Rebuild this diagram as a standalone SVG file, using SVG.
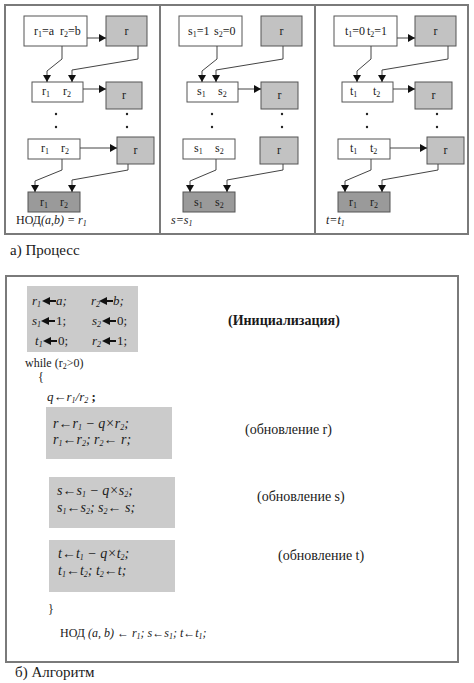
<svg xmlns="http://www.w3.org/2000/svg" width="474" height="683" viewBox="0 0 474 683">
<style>
text{font-family:"Liberation Serif","Times New Roman",serif;fill:#1a1a1a}
.t{font-size:12px}
.i{font-style:italic}
.s{font-size:8px}
.w{fill:#fff;stroke:#555;stroke-width:1}
.g{fill:#c2c2c2;stroke:#555;stroke-width:1}
.d{fill:#9a9a9a;stroke:#555;stroke-width:1}
.frame{fill:none;stroke:#7a7a7a;stroke-width:2}
.c{fill:none;stroke:#444;stroke-width:1}
.ab{fill:#cbcbcb}
.a13{font-size:13px;font-style:italic}
.a14{font-size:14px;font-style:italic}
.lbl{font-size:14px}
.dot{fill:#222}
</style>
<defs>
<marker id="ah" markerWidth="8" markerHeight="8" refX="7" refY="4" orient="auto" markerUnits="userSpaceOnUse">
<path d="M0,0 L7,4 L0,8 Z" fill="#111"/>
</marker>
<g id="big">
<path d="M0,0 L8,-4 L8,4 Z" fill="#111"/>
<line x1="7" y1="0" x2="14" y2="0" stroke="#111" stroke-width="2"/>
</g>
</defs>

<!-- frames -->
<rect class="frame" x="5" y="5" width="463" height="229"/>
<line class="frame" x1="160" y1="5" x2="160" y2="234"/>
<line class="frame" x1="315" y1="5" x2="315" y2="234"/>
<rect class="frame" x="6" y="276" width="452" height="386"/>

<!-- column 1 -->
<g id="c1b1"><rect class="w" x="24" y="16" width="63" height="30"/>
<text class="t" x="34" y="35">r<tspan class="s" dy="2">1</tspan><tspan dy="-2">=a</tspan></text>
<text class="t" x="60" y="35">r<tspan class="s" dy="2">2</tspan><tspan dy="-2">=b</tspan></text></g>
<g id="c1r1"><rect class="g" x="106" y="16" width="41" height="30"/><text class="t" x="126.5" y="35" text-anchor="middle">r</text></g>
<g id="c1b2"><rect class="w" x="32" y="82" width="51" height="20"/>
<text class="t" x="42" y="95">r<tspan class="s" dy="2">1</tspan></text><text class="t" x="63" y="95">r<tspan class="s" dy="2">2</tspan></text></g>
<g id="c1r2"><rect class="g" x="106" y="82" width="36" height="27"/><text class="t" x="124" y="99" text-anchor="middle">r</text></g>
<g id="c1b3"><rect class="w" x="28" y="139" width="52" height="20"/>
<text class="t" x="41" y="152">r<tspan class="s" dy="2">1</tspan></text><text class="t" x="61" y="152">r<tspan class="s" dy="2">2</tspan></text></g>
<g id="c1r3"><rect class="g" x="117" y="137" width="37" height="27"/><text class="t" x="135.5" y="154" text-anchor="middle">r</text></g>
<g id="c1b4"><rect class="d" x="28" y="192" width="52" height="20"/>
<text class="t" x="40" y="206">r<tspan class="s" dy="2">1</tspan></text><text class="t" x="60" y="206">r<tspan class="s" dy="2">2</tspan></text></g>
<text class="t" x="16" y="224">НОД<tspan class="i">(a,b) = r</tspan><tspan class="s i" dy="2">1</tspan></text>
<g id="c1dots"><circle class="dot" cx="56" cy="114" r="1.2"/><circle class="dot" cx="56" cy="127" r="1.2"/><circle class="dot" cx="127" cy="114" r="1.2"/><circle class="dot" cx="127" cy="127" r="1.2"/></g>

<!-- column 2 -->
<g id="c2b1"><rect class="w" x="179" y="16" width="63" height="30"/>
<text class="t" x="188" y="35">s<tspan class="s" dy="2">1</tspan><tspan dy="-2">=1</tspan></text>
<text class="t" x="214" y="35">s<tspan class="s" dy="2">2</tspan><tspan dy="-2">=0</tspan></text></g>
<g id="c2r1"><rect class="g" x="261" y="16" width="41" height="30"/><text class="t" x="281.5" y="35" text-anchor="middle">r</text></g>
<g id="c2b2"><rect class="w" x="187" y="82" width="51" height="20"/>
<text class="t" x="197" y="95">s<tspan class="s" dy="2">1</tspan></text><text class="t" x="218" y="95">s<tspan class="s" dy="2">2</tspan></text></g>
<g id="c2r2"><rect class="g" x="261" y="82" width="37" height="27"/><text class="t" x="279.5" y="99" text-anchor="middle">r</text></g>
<g id="c2b3"><rect class="w" x="183" y="139" width="52" height="20"/>
<text class="t" x="194" y="152">s<tspan class="s" dy="2">1</tspan></text><text class="t" x="215" y="152">s<tspan class="s" dy="2">2</tspan></text></g>
<g id="c2r3"><rect class="g" x="260" y="137" width="38" height="27"/><text class="t" x="279" y="154" text-anchor="middle">r</text></g>
<g id="c2b4"><rect class="d" x="183" y="192" width="52" height="20"/>
<text class="t" x="194" y="206">s<tspan class="s" dy="2">1</tspan></text><text class="t" x="215" y="206">s<tspan class="s" dy="2">2</tspan></text></g>
<text class="t i" x="171" y="224">s=s<tspan class="s" dy="2">1</tspan></text>
<g id="c2dots"><circle class="dot" cx="212" cy="114" r="1.2"/><circle class="dot" cx="212" cy="127" r="1.2"/><circle class="dot" cx="282" cy="114" r="1.2"/><circle class="dot" cx="282" cy="127" r="1.2"/></g>

<!-- column 3 -->
<g id="c3b1"><rect class="w" x="334" y="16" width="63" height="30"/>
<text class="t" x="345" y="35">t<tspan class="s" dy="2">1</tspan><tspan dy="-2">=0</tspan></text>
<text class="t" x="367" y="35">t<tspan class="s" dy="2">2</tspan><tspan dy="-2">=1</tspan></text></g>
<g id="c3r1"><rect class="g" x="415" y="16" width="41" height="30"/><text class="t" x="435.5" y="35" text-anchor="middle">r</text></g>
<g id="c3b2"><rect class="w" x="342" y="82" width="51" height="20"/>
<text class="t" x="350" y="95">t<tspan class="s" dy="2">1</tspan></text><text class="t" x="373" y="95">t<tspan class="s" dy="2">2</tspan></text></g>
<g id="c3r2"><rect class="g" x="415" y="82" width="37" height="27"/><text class="t" x="433.5" y="99" text-anchor="middle">r</text></g>
<g id="c3b3"><rect class="w" x="338" y="139" width="52" height="20"/>
<text class="t" x="350" y="152">t<tspan class="s" dy="2">1</tspan></text><text class="t" x="370" y="152">t<tspan class="s" dy="2">2</tspan></text></g>
<g id="c3r3"><rect class="g" x="427" y="137" width="37" height="27"/><text class="t" x="445.5" y="154" text-anchor="middle">r</text></g>
<g id="c3b4"><rect class="d" x="338" y="192" width="52" height="20"/>
<text class="t" x="349" y="206">r<tspan class="s" dy="2">1</tspan></text><text class="t" x="370" y="206">r<tspan class="s" dy="2">2</tspan></text></g>
<text class="t i" x="326" y="224">t=t<tspan class="s" dy="2">1</tspan></text>
<g id="c3dots"><circle class="dot" cx="367" cy="114" r="1.2"/><circle class="dot" cx="367" cy="127" r="1.2"/><circle class="dot" cx="437" cy="114" r="1.2"/><circle class="dot" cx="437" cy="127" r="1.2"/></g>

<!-- connectors -->
<g id="connectors" class="c">
<polyline points="87,38 106,38" marker-end="url(#ah)"/>
<polyline points="62,46 62,59 47,71 47,82" marker-end="url(#ah)"/>
<polyline points="138,46 138,59 72,70 72,82" marker-end="url(#ah)"/>
<polyline points="83,89 106,89" marker-end="url(#ah)"/>
<polyline points="80,148 117,148" marker-end="url(#ah)"/>
<polyline points="62,159 62,170 35,181 35,192" marker-end="url(#ah)"/>
<polyline points="128,164 128,170 72,180 72,192" marker-end="url(#ah)"/>

<polyline points="217,46 217,59 202,71 202,82" marker-end="url(#ah)"/>
<polyline points="283,46 283,59 216,70 216,82" marker-end="url(#ah)"/>
<polyline points="238,89 261,89" marker-end="url(#ah)"/>
<polyline points="216,159 216,170 190,181 190,192" marker-end="url(#ah)"/>
<polyline points="283,164 283,170 227,180 227,192" marker-end="url(#ah)"/>

<polyline points="397,38 415,38" marker-end="url(#ah)"/>
<polyline points="371,46 371,59 357,71 357,82" marker-end="url(#ah)"/>
<polyline points="448,46 448,59 382,70 382,82" marker-end="url(#ah)"/>
<polyline points="393,89 415,89" marker-end="url(#ah)"/>
<polyline points="390,148 427,148" marker-end="url(#ah)"/>
<polyline points="371,159 371,170 345,181 345,192" marker-end="url(#ah)"/>
<polyline points="438,164 438,170 382,180 382,192" marker-end="url(#ah)"/>
</g>

<text x="10" y="255" font-size="15">а) Процесс</text>

<!-- algorithm -->
<g id="init">
<rect class="ab" x="27" y="286" width="111" height="66"/>
<text class="a13" x="32" y="305">r<tspan class="s" dy="2">1</tspan></text><use href="#big" x="42" y="301"/><text class="a13" x="56" y="305">a;</text>
<text class="a13" x="91" y="305">r<tspan class="s" dy="2">2</tspan></text><use href="#big" x="99" y="301"/><text class="a13" x="113" y="305">b;</text>
<text class="a13" x="32" y="325">s<tspan class="s" dy="2">1</tspan></text><use href="#big" x="41" y="321"/><text font-size="13" x="56" y="325">1;</text>
<text class="a13" x="92" y="325">s<tspan class="s" dy="2">2</tspan></text><use href="#big" x="102" y="321"/><text font-size="13" x="117" y="325">0;</text>
<text class="a13" x="35" y="345">t<tspan class="s" dy="2">1</tspan></text><use href="#big" x="43" y="341"/><text font-size="13" x="58" y="345">0;</text>
<text class="a13" x="92" y="345">r<tspan class="s" dy="2">2</tspan></text><use href="#big" x="102" y="341"/><text font-size="13" x="117" y="345">1;</text>
</g>
<text x="228" y="325" font-size="14" font-weight="bold">(Инициализация)</text>
<text x="25" y="367" font-size="12">while (r<tspan class="s" dy="2">2</tspan><tspan dy="-2">&gt;0)</tspan></text>
<text x="38" y="381" font-size="12">{</text>
<text class="a13" x="47" y="401">q←r<tspan class="s" dy="2">1</tspan><tspan dy="-2">/r</tspan><tspan class="s" dy="2">2</tspan><tspan dy="-2" font-style="normal" font-weight="bold"> ;</tspan></text>

<g id="upd_r">
<rect class="ab" x="46" y="407" width="126" height="52"/>
<text class="a14" x="53" y="428">r←r<tspan class="s" dy="2">1</tspan><tspan dy="-2"> − q×r</tspan><tspan class="s" dy="2">2</tspan><tspan dy="-2">;</tspan></text>
<text class="a14" x="53" y="444">r<tspan class="s" dy="2">1</tspan><tspan dy="-2">←r</tspan><tspan class="s" dy="2">2</tspan><tspan dy="-2">;  r</tspan><tspan class="s" dy="2">2</tspan><tspan dy="-2">← r;</tspan></text>
</g>
<text class="lbl" x="245" y="434">(обновление r)</text>

<g id="upd_s">
<rect class="ab" x="49" y="477" width="126" height="51"/>
<text class="a14" x="57" y="495">s←s<tspan class="s" dy="2">1</tspan><tspan dy="-2"> − q×s</tspan><tspan class="s" dy="2">2</tspan><tspan dy="-2">;</tspan></text>
<text class="a14" x="57" y="512">s<tspan class="s" dy="2">1</tspan><tspan dy="-2">←s</tspan><tspan class="s" dy="2">2</tspan><tspan dy="-2">;  s</tspan><tspan class="s" dy="2">2</tspan><tspan dy="-2">← s;</tspan></text>
</g>
<text class="lbl" x="257" y="501">(обновление s)</text>

<g id="upd_t">
<rect class="ab" x="49" y="540" width="126" height="52"/>
<text class="a14" x="58" y="558">t←t<tspan class="s" dy="2">1</tspan><tspan dy="-2"> − q×t</tspan><tspan class="s" dy="2">2</tspan><tspan dy="-2">;</tspan></text>
<text class="a14" x="58" y="575">t<tspan class="s" dy="2">1</tspan><tspan dy="-2">←t</tspan><tspan class="s" dy="2">2</tspan><tspan dy="-2">; t</tspan><tspan class="s" dy="2">2</tspan><tspan dy="-2">←t;</tspan></text>
</g>
<text class="lbl" x="278" y="560">(обновление t)</text>

<text x="48" y="613" font-size="12">}</text>
<text x="60" y="637" font-size="12">НОД <tspan font-style="italic">(a, b) ← r</tspan><tspan class="s i" dy="2">1</tspan><tspan dy="-2" font-style="italic">; s←s</tspan><tspan class="s i" dy="2">1</tspan><tspan dy="-2" font-style="italic">; t←t</tspan><tspan class="s i" dy="2">1</tspan><tspan dy="-2" font-style="italic">;</tspan></text>

<text x="15" y="677" font-size="15">б) Алгоритм</text>
</svg>
